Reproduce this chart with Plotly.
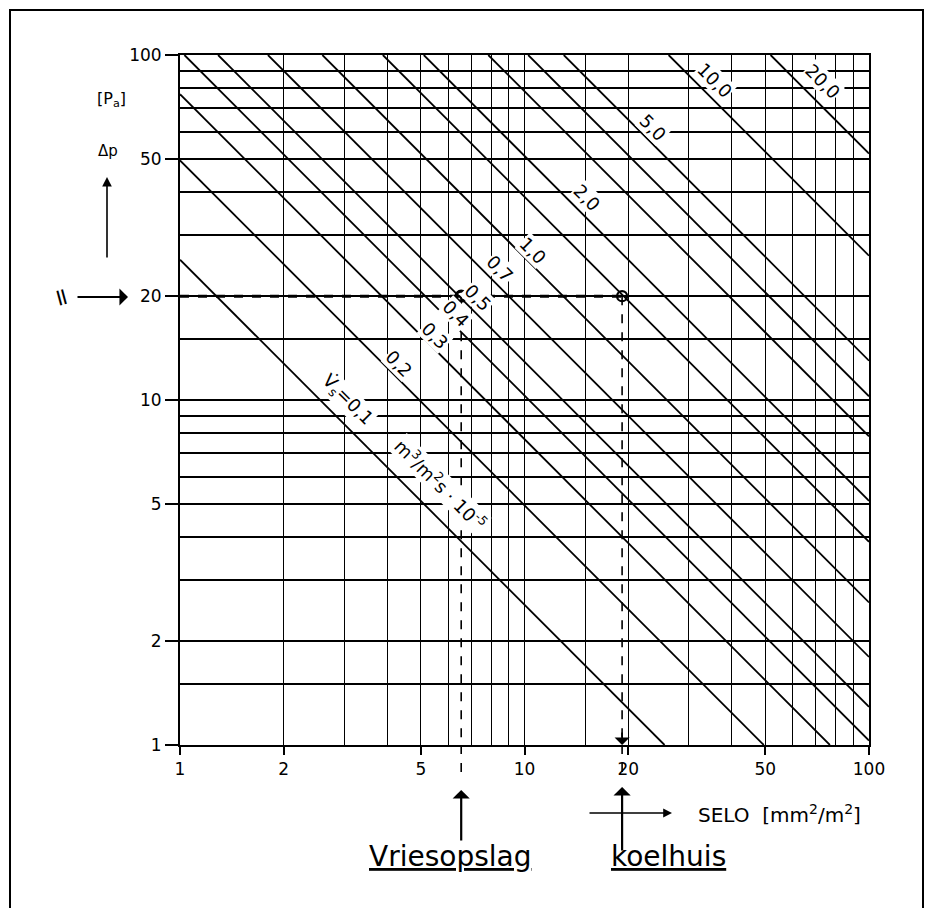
import numpy as np
import plotly.graph_objects as go

# ---------------- data ----------------
flow_rate = [0.1, 0.2, 0.3, 0.4, 0.5, 0.7, 1.0, 1.5, 2.0, 3.0, 4.0, 5.0, 10.0, 20.0]
line_labels = ["V̇<sub>s</sub>=0,1", "0,2", "0,3", "0,4", "0,5", "0,7", "1,0", "", "2,0",
               "", "", "5,0", "10,0", "20,0"]
line_start_selo = [1.0, 1.0, 1.0, 1.03, 1.29, 1.80, 2.59, 3.88, 5.10, 7.85, 10.25, 13.0, 26.2, 51.8]
line_start_dp = [25.5, 49.5, 77.0, 100, 100, 100, 100, 100, 100, 100, 100, 100, 100, 100]
line_end_selo = [25.5, 49.5, 77.0, 100, 100, 100, 100, 100, 100, 100, 100, 100, 100, 100]
line_end_dp = [1.0, 1.0, 1.0, 1.03, 1.29, 1.80, 2.59, 3.88, 5.10, 7.85, 10.25, 13.0, 26.2, 51.8]

tick_vals = [1, 2, 5, 10, 20, 50, 100]
tick_text = ["1", "2", "5", "10", "20", "50", "100"]
x_minor = [3, 4, 6, 7, 8, 9, 15, 30, 40, 60, 70, 80, 90]
y_minor = [1.5, 3, 4, 6, 7, 8, 9, 15, 30, 40, 60, 70, 80, 90]

case_names = ["Vriesopslag", "koelhuis"]
case_selo = [6.55, 19.2]
case_dp = [20, 20]
dp_floor = 1

# ---------------- layout helpers ----------------
OFF = 8                      # page body margin
W, H = 925, 900
L, R, T, B = 172, 64, 47, 163
PW, PH = W - L - R, H - T - B
X0, Y0 = OFF + L, OFF + T    # screen position of plot top-left
FONT = "DejaVu Sans"


def px(xp):
    return (xp - X0) / PW


def py(yp):
    return (Y0 + PH - yp) / PH


fig = go.Figure()

# diagonal lines
for i in range(len(flow_rate)):
    fig.add_trace(go.Scatter(
        x=[line_start_selo[i], line_end_selo[i]],
        y=[line_start_dp[i], line_end_dp[i]],
        mode="lines", line=dict(color="black", width=1.8),
        showlegend=False, hoverinfo="skip"))

# horizontal dashed reading line at dp = 20
fig.add_trace(go.Scatter(x=[1, case_selo[1]], y=[case_dp[0], case_dp[1]], mode="lines",
                         line=dict(color="black", width=3, dash="dash"),
                         showlegend=False, hoverinfo="skip"))
# vertical dashed lines
for s, d in zip(case_selo, case_dp):
    fig.add_trace(go.Scatter(x=[s, s], y=[d, dp_floor], mode="lines",
                             line=dict(color="black", width=1.6, dash="dash"),
                             showlegend=False, hoverinfo="skip"))
# markers
fig.add_trace(go.Scatter(x=case_selo, y=case_dp, mode="markers",
                         marker=dict(symbol="circle-open", size=10, color="black",
                                     line=dict(width=[3.2, 2.2], color="black")),
                         showlegend=False, hoverinfo="skip"))

annotations = []
# line labels (rotated along the lines), positions in screen px
label_px = [(347, 400), (399, 363), (435, 335), (456, 313), (478, 297), (500, 268),
            (533, 250), None, (587, 197), None, None, (653, 127), (715, 80), (823, 81)]
for txt, pos in zip(line_labels, label_px):
    if not txt or pos is None:
        continue
    lx = (pos[0] - X0) / (PW / 2)
    ly = 2 - (pos[1] - Y0) / (PH / 2)
    annotations.append(dict(x=lx, y=ly, xref="x", yref="y", text=txt, showarrow=False,
                            textangle=45, font=dict(family=FONT, size=18, color="black"),
                            bgcolor="white", borderpad=0))
# unit label along the 0,1 line
annotations.append(dict(x=(440 - X0) / (PW / 2), y=2 - (484 - Y0) / (PH / 2), xref="x", yref="y",
                        text="m<sup>3</sup>/m<sup>2</sup>s · 10<sup>-5</sup>", showarrow=False,
                        textangle=45, font=dict(family=FONT, size=18, color="black"),
                        bgcolor="white", borderpad=0))


def paper_text(x, y, text, size, angle=0):
    return dict(x=px(x), y=py(y), xref="paper", yref="paper", text=text, showarrow=False,
                xanchor="center", yanchor="middle", textangle=angle,
                font=dict(family=FONT, size=size, color="black"))


def paper_arrow(x, y, ax, ay, head=2, size=1.2, width=1.6):
    return dict(x=px(x), y=py(y), xref="paper", yref="paper", ax=ax, ay=ay,
                axref="pixel", ayref="pixel", text="", showarrow=True,
                arrowhead=head, arrowsize=size, arrowwidth=width, arrowcolor="black")


# y-axis title bits
annotations.append(paper_text(111, 99, "[P<sub>a</sub>]", 16))
annotations.append(paper_text(108, 151, "Δp", 15))
annotations.append(paper_arrow(107, 177, 0, 82, head=2, size=1.2, width=1.6))
# arrow pointing at the 20 Pa level
annotations.append(paper_arrow(128, 297, -52, 0, head=1, size=1.3, width=2.2))
annotations.append(paper_text(62, 297, "=", 24, angle=75))
# x axis title with arrow
annotations.append(paper_arrow(672, 813, -84, 0, head=2, size=1.1, width=1.6))
annotations.append(paper_text(779, 814, "SELO  [mm<sup>2</sup>/m<sup>2</sup>]", 20))
# case arrows + names
for name, s, head_y, tail_y, name_x in zip(case_names, case_selo, [790, 787], [842, 852], [450, 668]):
    xp = np.log10(s) / 2
    annotations.append(dict(x=xp, y=py(head_y), xref="paper", yref="paper", ax=0,
                            ay=tail_y - head_y, text="", showarrow=True, arrowhead=1,
                            arrowsize=1.3, arrowwidth=2.2, arrowcolor="black"))
    annotations.append(paper_text(name_x, 856, "<u>" + name + "</u>", 28))
# downward arrowhead at end of koelhuis reading line
annotations.append(dict(x=np.log10(case_selo[1]), y=0.0, xref="x", yref="y", ax=0, ay=-14,
                        text="", showarrow=True, arrowhead=1, arrowsize=1.4,
                        arrowwidth=1.8, arrowcolor="black"))

shapes = []
# dashed continuation below the axis
for s, y_end in zip(case_selo, [778, 776]):
    xp = np.log10(s) / 2
    shapes.append(dict(type="line", xref="paper", yref="paper", x0=xp, x1=xp,
                       y0=0, y1=py(y_end), line=dict(color="black", width=1.6, dash="dash")))
# outer frame
shapes.append(dict(type="rect", xref="paper", yref="paper", x0=px(10), x1=px(923),
                   y0=py(920), y1=py(10), line=dict(color="black", width=2),
                   fillcolor="rgba(0,0,0,0)"))

axis_common = dict(
    type="log", range=[0, 2], tickvals=tick_vals, ticktext=tick_text,
    ticks="outside", tickcolor="black", tickwidth=1.5,
    showgrid=True, gridcolor="black",
    showline=True, linecolor="black", linewidth=2, mirror=True, zeroline=False,
    tickfont=dict(family=FONT, size=17, color="black"),
)

fig.update_layout(
    width=W, height=H, margin=dict(l=L, r=R, t=T, b=B),
    paper_bgcolor="white", plot_bgcolor="white",
    showlegend=False,
    xaxis=dict(**axis_common, ticklen=8, gridwidth=1.3,
               minor=dict(tickvals=x_minor, showgrid=True, gridcolor="black", gridwidth=1.3,
                          ticks="")),
    yaxis=dict(**axis_common, ticklen=13, gridwidth=2,
               minor=dict(tickvals=y_minor, showgrid=True, gridcolor="black", gridwidth=2,
                          ticks="")),
    annotations=annotations,
    shapes=shapes,
)

fig.write_html("out.html")
